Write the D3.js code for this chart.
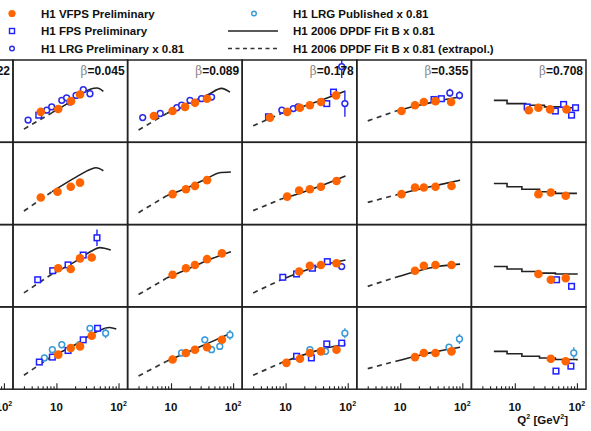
<!DOCTYPE html>
<html><head><meta charset="utf-8">
<script src="https://cdn.jsdelivr.net/npm/d3@7"></script>
<style>
body{margin:0;background:#fff}
svg{display:block}
text{font-family:"Liberation Sans",Arial,Helvetica,sans-serif;font-weight:bold;fill:#111}
</style>
</head><body>
<svg id="chart" width="591" height="431"></svg>
<script>
// Column headers (beta bins); the first column is only partly on the page
const betaLabels = ["0.022", "0.045", "0.089", "0.178", "0.355", "0.708"];
const rowCount = 4;
const q2Domain = [2, 140];
const yDomain = [0, 1];
const majorTicks = [10, 100];
const minorTicks = [3, 4, 5, 6, 7, 8, 9, 20, 30, 40, 50, 60, 70, 80, 90];

// [row, col, Q2, value, error?]   col 0 = beta 0.045
const vfps = [
  [0,0,5.6,0.37],[0,0,10.7,0.405],[0,0,17.2,0.50],[0,0,24,0.58],
  [0,1,5.3,0.32],[0,1,10.6,0.38],[0,1,16.8,0.43],[0,1,24.3,0.48],[0,1,38,0.53],
  [0,2,5.6,0.30],[0,2,10.6,0.37],[0,2,17,0.42],[0,2,24.6,0.45],[0,2,37,0.49],[0,2,65,0.57],
  [0,3,10.5,0.38],[0,3,17.3,0.45],[0,3,24,0.49],[0,3,37,0.50],[0,3,66,0.49],
  [0,4,16.8,0.39],[0,4,24,0.42],[0,4,37,0.40],[0,4,68,0.40],
  [1,0,5.6,0.33],[1,0,10.4,0.40],[1,0,17,0.46],[1,0,24,0.51],
  [1,1,10.6,0.37],[1,1,17.4,0.43],[1,1,24.3,0.47],[1,1,38,0.54],
  [1,2,10.6,0.34],[1,2,16.5,0.415],[1,2,24.6,0.43],[1,2,37,0.46],[1,2,66,0.53],
  [1,3,10.5,0.37],[1,3,17.3,0.45],[1,3,24,0.45],[1,3,37,0.46],[1,3,67,0.47],
  [1,4,24,0.37],[1,4,38,0.39],[1,4,66,0.35],
  [2,0,10.7,0.47],[2,0,17,0.46],[2,0,24,0.59],[2,0,37,0.60],
  [2,1,10.6,0.39],[2,1,17.4,0.47],[2,1,24.3,0.51],[2,1,38,0.58],[2,1,66,0.65],
  [2,2,16.5,0.43],[2,2,24.6,0.50],[2,2,37,0.51],[2,2,66,0.53],
  [2,3,17.3,0.44],[2,3,24,0.50],[2,3,37,0.51],[2,3,67,0.51],
  [2,4,24,0.40],[2,4,38,0.33],[2,4,66,0.35],
  [3,0,10.7,0.42],[3,0,17,0.50],[3,0,24,0.52],[3,0,37,0.65],
  [3,1,10.6,0.36],[3,1,17.4,0.44],[3,1,24.3,0.48],[3,1,38,0.51],[3,1,66,0.60],
  [3,2,10.3,0.32],[3,2,17,0.37],[3,2,24.6,0.44],[3,2,37,0.46],[3,2,66,0.48],
  [3,3,17.3,0.39],[3,3,24,0.44],[3,3,37,0.44],[3,3,67,0.46],
  [3,4,38,0.37],[3,4,66,0.34]
];

const fps = [
  [0,0,5.2,0.33],
  [0,2,5.3,0.31],[0,2,46,0.47],[0,2,59,0.61],
  [0,3,35,0.52],[0,3,46,0.53],
  [0,4,15.8,0.43],[0,4,45,0.38],[0,4,61,0.46],[0,4,82,0.33],[0,4,95,0.42],
  [2,0,5.0,0.33],[2,0,8.7,0.44],[2,0,15.4,0.51],[2,0,27,0.63],[2,0,45,0.84,0.1],
  [2,2,9,0.36],[2,2,15,0.40],[2,2,27,0.47],[2,2,47,0.55],
  [2,4,47,0.33],[2,4,82,0.25],
  [3,0,5.3,0.33],[3,0,8.6,0.39],[3,0,15.4,0.47],[3,0,27,0.60],[3,0,46,0.74],
  [3,2,15,0.40],[3,2,26,0.38],[3,2,46,0.55],[3,2,80,0.56],
  [3,4,46,0.22],[3,4,80,0.28]
];

const lrgPrelim = [
  [0,0,3.5,0.27],[0,0,7.0,0.39],[0,0,8.4,0.43],[0,0,12.2,0.51],[0,0,14.6,0.54],
  [0,0,16.5,0.49],[0,0,20.7,0.57],[0,0,27.1,0.64],[0,0,34.7,0.59],
  [0,1,3.5,0.30],[0,1,6.7,0.35],[0,1,12.4,0.42],[0,1,14.8,0.45],[0,1,20.2,0.51],
  [0,1,31,0.53],[0,1,45,0.55],
  [0,2,8.7,0.39],[0,2,13.3,0.41],[0,2,15.8,0.43],[0,2,90,0.47,0.16],[0,2,80,0.92,0.14],
  [0,3,63,0.60,0.05],[0,3,90,0.57,0.05],
  [2,2,80,0.49]
];

const lrgPublished = [
  [3,0,6.4,0.38],[3,0,8.6,0.48],[3,0,12.2,0.54],[3,0,23.5,0.54],[3,0,34.7,0.74],[3,0,62,0.68,0.06],
  [3,1,14.8,0.44],[3,1,35,0.60],[3,1,45,0.48],[3,1,61,0.52],[3,1,89,0.66,0.06],
  [3,2,24.6,0.48],[3,2,44,0.46],[3,2,90,0.68,0.06],
  [3,3,61,0.51],[3,3,90,0.61,0.06],
  [3,4,89,0.44,0.07]
];

// DPDF fit B inside its fit range (solid) — [row, col, points]
const fitSolid = [
  [0,0,[[8.5,0.36],[15,0.47],[25,0.59],[35,0.645],[45,0.66],[57,0.62]]],
  [0,1,[[8.5,0.35],[20,0.48],[40,0.58],[65,0.655],[89,0.61]]],
  [0,2,[[8.5,0.35],[20,0.44],[40,0.52],[90,0.62]]],
  [0,3,[[8.5,0.38],[20,0.45],[40,0.50],[90,0.55]]],
  [1,0,[[8.5,0.40],[21,0.58],[35,0.67],[43.5,0.69],[57,0.655]]],
  [1,1,[[8.5,0.35],[20,0.46],[40,0.57],[60,0.63],[92,0.64]]],
  [1,2,[[8.5,0.31],[20,0.40],[40,0.48],[92,0.59]]],
  [1,3,[[8.5,0.36],[20,0.43],[40,0.48],[92,0.54]]],
  [2,0,[[8.5,0.40],[20,0.55],[35,0.67],[50,0.72],[75,0.69]]],
  [2,1,[[8.5,0.35],[20,0.47],[40,0.57],[92,0.67]]],
  [2,2,[[8.5,0.33],[20,0.44],[40,0.51],[92,0.57]]],
  [2,3,[[8.5,0.36],[20,0.44],[40,0.49],[92,0.52]]],
  [3,0,[[8.5,0.40],[20,0.54],[40,0.68],[72,0.75],[92,0.73]]],
  [3,1,[[8.5,0.34],[20,0.46],[40,0.56],[92,0.68]]],
  [3,2,[[8.5,0.32],[20,0.42],[40,0.49],[92,0.55]]],
  [3,3,[[8.5,0.34],[20,0.41],[40,0.46],[92,0.51]]]
];

// Highest beta bin: fit evaluated bin by bin (step line)
const fitSteps = [
  [0,4,[[4.6,0.51],[7.5,0.47],[15,0.45],[30,0.43],[60,0.42],[100,0.42]]],
  [1,4,[[4.6,0.50],[7.5,0.46],[13,0.43],[25,0.40],[45,0.38],[100,0.38]]],
  [2,4,[[4.6,0.49],[7.5,0.46],[13,0.43],[25,0.41],[45,0.40],[100,0.39]]],
  [3,4,[[4.6,0.46],[7.5,0.43],[13,0.40],[25,0.38],[45,0.36],[100,0.35]]]
];

// Extrapolation below the fit range (dashed)
const fitExtrap = [
  [0,0,[[3,0.16],[8.5,0.36]]],[0,1,[[3,0.15],[8.5,0.35]]],[0,2,[[3,0.20],[8.5,0.35]]],[0,3,[[3,0.26],[8.5,0.38]]],
  [1,0,[[3,0.165],[8.5,0.40]]],[1,1,[[3,0.145],[8.5,0.35]]],[1,2,[[3,0.17],[8.5,0.31]]],[1,3,[[3,0.27],[8.5,0.36]]],
  [2,0,[[3,0.17],[8.5,0.40]]],[2,1,[[3,0.15],[8.5,0.35]]],[2,2,[[3,0.17],[8.5,0.33]]],[2,3,[[3,0.25],[8.5,0.36]]],
  [3,0,[[3,0.17],[8.5,0.40]]],[3,1,[[3,0.16],[8.5,0.34]]],[3,2,[[3,0.17],[8.5,0.32]]],[3,3,[[3,0.25],[8.5,0.34]]]
];

const legendLeft = ["H1 VFPS Preliminary", "H1 FPS Preliminary", "H1 LRG Preliminary x 0.81"];
const legendRight = ["H1 LRG Published x 0.81", "H1 2006 DPDF Fit B x 0.81", "H1 2006 DPDF Fit B x 0.81 (extrapol.)"];

// ---- layout ----
const gridLeft = 13, gridTop = 60, cellW = 114.6, cellH = 82.3;
const colours = { vfps: "#ff6400", fps: "#1f1fff", lrg: "#2a2ae8", pub: "#3a9ad8", fit: "#222" };

const svg = d3.select("#chart");
const defs = svg.append("defs");

function xScale(c) {
  const x0 = gridLeft + c * cellW;
  return d3.scaleLog().domain(q2Domain).range([x0, x0 + cellW]);
}
function yScale(r) {
  const y0 = gridTop + r * cellH;
  return d3.scaleLinear().domain(yDomain).range([y0 + cellH, y0]);
}

const panels = [];
for (let r = 0; r < rowCount; r++)
  for (let c = -1; c < 5; c++) panels.push({ r, c });

// clip regions
panels.forEach(p => {
  defs.append("clipPath").attr("id", `clip-${p.r}-${p.c + 1}`)
    .append("rect")
    .attr("x", gridLeft + p.c * cellW).attr("y", gridTop + p.r * cellH)
    .attr("width", cellW).attr("height", cellH);
});

const plot = svg.append("g");

function panelGroup(r, c) {
  return plot.append("g").attr("clip-path", `url(#clip-${r}-${c + 1})`);
}

// curves
const smooth = d3.line().curve(d3.curveMonotoneX);
fitExtrap.forEach(([r, c, pts]) => {
  const xs = xScale(c), ys = yScale(r);
  panelGroup(r, c).append("path")
    .attr("d", smooth.x(d => xs(d[0])).y(d => ys(d[1]))(pts))
    .attr("fill", "none").attr("stroke", "#333").attr("stroke-width", 1.7)
    .attr("stroke-dasharray", "5,4.5");
});
fitSolid.forEach(([r, c, pts]) => {
  const xs = xScale(c), ys = yScale(r);
  panelGroup(r, c).append("path")
    .attr("d", smooth.x(d => xs(d[0])).y(d => ys(d[1]))(pts))
    .attr("fill", "none").attr("stroke", colours.fit).attr("stroke-width", 1.6);
});
const step = d3.line().curve(d3.curveStepAfter);
fitSteps.forEach(([r, c, pts]) => {
  const xs = xScale(c), ys = yScale(r);
  panelGroup(r, c).append("path")
    .attr("d", step.x(d => xs(d[0])).y(d => ys(d[1]))(pts))
    .attr("fill", "none").attr("stroke", colours.fit).attr("stroke-width", 1.6);
});

// data points with error bars
function drawSeries(data, defErr, colour, shape) {
  data.forEach(([r, c, q2, v, e]) => {
    const xs = xScale(c), ys = yScale(r);
    const err = e === undefined ? defErr : e;
    const g = panelGroup(r, c);
    const cx = xs(q2), cy = ys(v);
    g.append("line").attr("x1", cx).attr("x2", cx)
      .attr("y1", ys(v - err)).attr("y2", ys(v + err))
      .attr("stroke", colour).attr("stroke-width", 1.4);
    if (shape === "dot") {
      g.append("circle").attr("cx", cx).attr("cy", cy).attr("r", 4.3).attr("fill", colour);
    } else if (shape === "square") {
      g.append("rect").attr("x", cx - 2.8).attr("y", cy - 2.8).attr("width", 5.6).attr("height", 5.6)
        .attr("fill", "#fff").attr("stroke", colour).attr("stroke-width", 1.5);
    } else {
      g.append("circle").attr("cx", cx).attr("cy", cy).attr("r", 2.9)
        .attr("fill", "#fff").attr("stroke", colour).attr("stroke-width", 1.5);
    }
  });
}
drawSeries(lrgPublished, 0.04, colours.pub, "circle");
drawSeries(lrgPrelim, 0.025, colours.lrg, "circle");
drawSeries(fps, 0.03, colours.fps, "square");
drawSeries(vfps, 0.025, colours.vfps, "dot");

// panel frames
panels.forEach(p => {
  plot.append("rect")
    .attr("x", gridLeft + p.c * cellW).attr("y", gridTop + p.r * cellH)
    .attr("width", cellW).attr("height", cellH)
    .attr("fill", "none").attr("stroke", "#222").attr("stroke-width", 1.5);
});

// beta labels
betaLabels.forEach((b, i) => {
  const c = i - 1;
  const t = svg.append("text")
    .attr("x", gridLeft + (c + 1) * cellW - 3).attr("y", gridTop + 15)
    .attr("text-anchor", "end").style("font-size", "12px");
  t.append("tspan").text("β").style("font-family", "'DejaVu Serif',serif")
    .style("font-weight", "normal").style("fill", "#888");
  t.append("tspan").text("=" + b);
});

// Q2 axes along the bottom row
const bottom = gridTop + rowCount * cellH;
for (let c = -1; c < 5; c++) {
  const xs = xScale(c);
  const ax = svg.append("g").attr("transform", `translate(0,${bottom})`);
  ax.call(d3.axisTop(xs).tickValues(minorTicks).tickSize(3).tickFormat(""));
  const ax2 = svg.append("g").attr("transform", `translate(0,${bottom})`);
  ax2.call(d3.axisTop(xs).tickValues(majorTicks).tickSize(6).tickFormat(""));
  [ax, ax2].forEach(a => {
    a.select(".domain").remove();
    a.selectAll(".tick line").attr("stroke", "#222").attr("stroke-width", 1.1);
  });
  majorTicks.forEach(v => {
    const t = svg.append("text").attr("x", xs(v)).attr("y", bottom + 22)
      .attr("text-anchor", "middle").style("font-size", "11.5px");
    if (v === 10) t.text("10");
    else {
      t.append("tspan").text("10");
      t.append("tspan").text("2").attr("dy", -5).style("font-size", "7px");
    }
  });
}
const qLab = svg.append("text").attr("x", 568).attr("y", 424)
  .attr("text-anchor", "end").style("font-size", "11.5px");
qLab.append("tspan").text("Q");
qLab.append("tspan").text("2").attr("dy", -5).style("font-size", "7px");
qLab.append("tspan").text(" [GeV").attr("dy", 5);
qLab.append("tspan").text("2").attr("dy", -5).style("font-size", "7px");
qLab.append("tspan").text("]").attr("dy", 5);

// legend
const leg = svg.append("g");
const rowY = [13.5, 31, 48.5];
leg.append("circle").attr("cx", 12).attr("cy", rowY[0]).attr("r", 3.6).attr("fill", colours.vfps);
leg.append("rect").attr("x", 9.5).attr("y", rowY[1] - 2.5).attr("width", 5).attr("height", 5)
  .attr("fill", "#fff").attr("stroke", colours.fps).attr("stroke-width", 1.4);
leg.append("circle").attr("cx", 12).attr("cy", rowY[2]).attr("r", 2.3)
  .attr("fill", "#fff").attr("stroke", colours.lrg).attr("stroke-width", 1.4);
leg.append("circle").attr("cx", 254).attr("cy", rowY[0]).attr("r", 2.3)
  .attr("fill", "#fff").attr("stroke", colours.pub).attr("stroke-width", 1.4);
leg.append("line").attr("x1", 228).attr("x2", 278).attr("y1", rowY[1]).attr("y2", rowY[1])
  .attr("stroke", colours.fit).attr("stroke-width", 1.6);
leg.append("line").attr("x1", 228).attr("x2", 278).attr("y1", rowY[2]).attr("y2", rowY[2])
  .attr("stroke", "#333").attr("stroke-width", 1.3).attr("stroke-dasharray", "4,3.5");
legendLeft.forEach((s, i) => leg.append("text").attr("x", 41).attr("y", rowY[i] + 4)
  .style("font-size", "11.5px").text(s));
legendRight.forEach((s, i) => leg.append("text").attr("x", 293).attr("y", rowY[i] + 4)
  .style("font-size", "11.5px").text(s));
</script>
</body></html>
